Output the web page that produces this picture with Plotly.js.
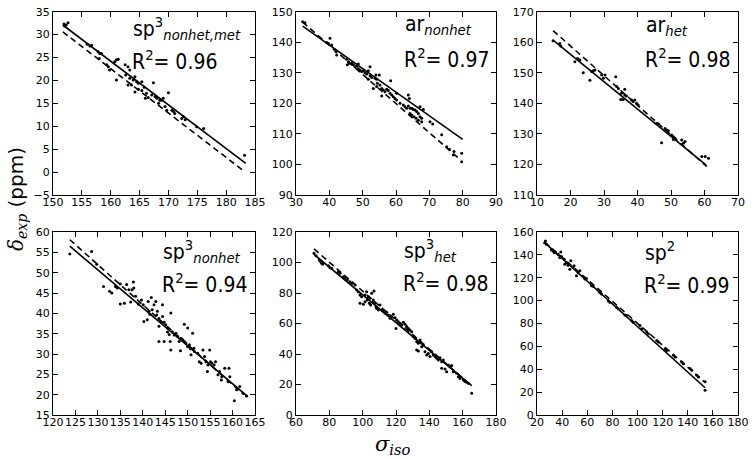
<!DOCTYPE html>
<html><head><meta charset="utf-8">
<script src="https://cdn.plot.ly/plotly-3.0.1.min.js"></script>
<style>html,body{margin:0;padding:0;background:#fff}</style>
</head><body><div id="chart" style="width:754px;height:460px"></div>
<script>
// ---- Panel titles / R2 ----
const panelNames = ["sp<sup>3</sup><sub><i>nonhet,met</i></sub>", "ar<sub><i>nonhet</i></sub>", "ar<sub><i>het</i></sub>",
                    "sp<sup>3</sup><sub><i>nonhet</i></sub>", "sp<sup>3</sup><sub><i>het</i></sub>", "sp<sup>2</sup>"];
const r2Values = ["0.96", "0.97", "0.98", "0.94", "0.98", "0.99"];

// ---- Axis ranges / ticks ----
const xRanges = [[150,185],[30,90],[10,70],[120,165],[60,180],[20,180]];
const yRanges = [[-5,35],[90,150],[110,170],[15,60],[0,120],[0,160]];
const xDticks = [5,10,10,5,20,20];
const yDticks = [5,10,10,5,20,20];

// ---- Panel 1: sp3 nonhet,met ----
const p1Sigma = [151.9,152.0,152.3,152.6,155.9,156.4,156.7,157.8,158.1,158.0,158.4,159.3,159.6,159.8,160.7,161.0,161.3,161.0,162.5,163.0,163.3,162.6,163.3,163.0,163.6,163.9,164.2,164.5,164.8,164.2,164.8,165.4,165.4,165.8,166.2,166.0,166.5,167.1,167.4,167.7,168.0,168.5,168.3,168.8,169.1,169.4,169.7,170.0,170.6,170.9,171.1,172.3,172.6,172.9,174.9,176.1,183.2];
const p1Delta = [32.3,31.9,32.1,32.6,27.9,27.5,27.7,26.3,25.9,24.8,25.9,23.4,23.0,22.3,24.1,24.5,24.6,20.1,23.4,23.0,22.3,21.2,20.5,19.0,19.0,20.1,20.8,19.7,19.4,17.5,18.1,17.8,19.7,18.5,17.2,16.1,16.3,16.8,19.5,16.5,16.1,15.7,15.0,15.7,16.1,14.3,13.5,17.3,13.5,13.2,12.8,11.7,12.1,11.4,9.9,9.5,3.7];
const p1FitX = [151.7,183.4], p1FitY = [32.1,1.9];
const p1RefX = [151.7,183.0], p1RefY = [30.6,0.3];

// ---- Panel 2: ar nonhet ----
const p2Sigma = [32,32.7,39.2,39.7,40.2,40.7,41.7,42.2,42,45.2,45.7,46,45.4,46.7,47.2,47.7,48.2,48.7,48.7,49.2,49.7,50.2,50.7,51.2,51.7,52.2,52.7,51.7,52.2,54,55,53.7,54.2,53.2,54.2,54.4,55.2,55.7,56.2,56.7,55.7,57.2,57.7,58.2,58.7,58.4,59.2,59.7,60.2,60.2,61.2,62.2,62.7,63.2,63.7,63.7,64,64.2,64.7,65.2,65.7,64.2,64.7,65.4,66,66.2,66.7,67.2,67.2,67.7,68.2,66.7,67.7,70.2,71,73.7,75.2,76,77.2,77.4,79.7,79.7];
const p2Delta = [146.7,146.4,139.9,139.6,141.3,139.1,137.5,135.8,136.9,134.4,133.6,133.1,132.6,133.1,132.6,132,132.2,132.9,131.4,130.9,130.4,130.7,130,129.6,130.7,129,128.5,127.9,132,129.3,129.3,128.2,127.9,124.9,125.5,126.6,126,124.9,124.4,123.8,122.4,124.6,124.2,123.3,122.7,127.4,122.2,121.6,123.3,121.1,120,119.5,118.9,118.4,119.1,122.7,121.6,118.4,118.4,118,117.8,116.7,116.2,115.6,115.1,117.3,116.7,118.9,115.6,115.1,118,114.5,114,114,113.2,109.7,105.8,105,103.1,104.2,103.7,100.9];
const p2FitX = [32,80], p2FitY = [145.3,108.2];
const p2RefX = [32,78.5], p2RefY = [146.6,102.3];

// ---- Panel 3: ar het ----
const p3Sigma = [14.8,16.8,17.1,21.3,22.1,22.8,23.8,25.8,26.3,26.8,27.3,29.3,30.3,29.8,33.5,33.8,34.3,35,35.7,35.2,36.2,36.7,36.2,38.2,38.7,39.2,39.7,40.2,45.7,46.2,48.2,48.7,49.2,47.2,50.2,50.7,51.2,50.7,53.2,53.7,54.2,59.2,60.2,61.2];
const p3Delta = [160.5,159.6,158.8,153.6,154.7,154.2,150,147.6,150.4,150.7,150.9,149.3,149.3,148.2,148.7,145.5,144.9,141.3,141.3,143.3,142.7,142.4,144.6,141.1,140.6,141.1,140,139.5,133.5,133.3,131.8,131.3,131,127.1,129.6,129.1,128.6,128.2,128,126.9,127.5,122.6,122.6,122];
const p3FitX = [14.8,60.5], p3FitY = [160.7,119.8];
const p3RefX = [14.8,60.7], p3RefY = [163.8,119.3];

// ---- Panel 4: sp3 nonhet ----
const p4Sigma = [123.75,128.6,129.75,131.25,132.6,133.1,133.9,134.3,135,135,135.9,136.4,136.9,137.6,137.9,138,137.3,138.4,139,139.7,140.1,140.25,141,141.2,141.4,141.6,141.9,142.1,142.5,142.9,143.1,143.25,143.6,144,144.4,144.4,143.6,144.75,145.1,145.5,143.6,144.75,146.25,145.5,145.9,146.1,146.25,146.6,147,147.4,147.75,148.1,148.5,148.4,149.25,148.9,149.25,149.6,150,150.4,150,150.6,150.75,151.4,151.1,151.5,152.25,152.6,153,153.4,153.75,154.1,154.4,154.5,154.9,155.1,155.4,155.9,156.2,156.75,157.1,157.5,157.6,158.25,159.2,159,159.4,160.4,160.9,161.6,163.1];
const p4Delta = [54.6,55.2,52.1,46.6,45.4,45,46.6,46.2,47.2,42.3,42.5,47.1,45.8,45.8,47.7,46.2,42.8,44.2,42.3,43.3,42.1,38,38.4,42.9,40.5,39.8,43.9,40.9,42.1,42.9,39.6,40.5,38.7,38,39.2,42.1,36.8,37.8,37.2,36.4,33.1,33.1,40.1,35.4,34.8,33.1,31,35.5,34.7,35.1,34.3,33.1,33.9,30.8,37.3,33.5,33.1,32.7,36.4,32.3,31.8,31.3,29.8,31.4,35.1,30.6,30.2,28.1,27.7,31,29.4,28.1,25.7,27.3,31,28.1,27.7,27.3,28.1,24.9,25.7,23.6,24.4,26.5,26.5,23.2,24.4,18.5,21.2,22,19.7];
const p4FitX = [123.75,163.4], p4FitY = [56.5,19.5];
const p4RefX = [123.75,162.5], p4RefY = [58.1,20.0];

// ---- Panel 5: sp3 het ----
const p5Sigma = [70.8,72,74,74.8,75.4,76,79.4,80.4,81.4,85.4,86.4,88.4,89.4,90.8,92.4,93.4,95.4,96.4,97.4,98.4,99.4,98.4,100.4,101.4,102.4,103.4,104.4,105.4,106.4,106.8,101.4,102.8,104,104.8,106,107.4,108,108.4,109.4,110.4,111.4,112.4,113.4,114.4,115.4,116.4,117.4,118.4,119.4,120.4,121.4,122.4,123.4,124.4,125.4,126.4,127.4,120,128.4,129.4,130.4,131.4,132.4,133.4,134.4,132.4,133.4,135.4,136.4,137.4,138.4,139.4,140.4,141.4,142.4,143.4,144.4,145.4,146.4,147.4,148.4,147.4,149.4,150.4,151.4,152.4,153.4,154.4,156.4,157.4,158.4,160.4,161.4,162.4,163.4,165.4];
const p5Delta = [106,104.5,101.6,100.5,99.5,98.8,97.9,96.6,96.2,94,92.9,90.7,89.6,88.5,87.4,86.3,85.2,82,80.9,78.7,77.6,73.2,72.6,78.7,80.9,77.6,76.5,79.8,75.4,81.3,74.3,75.4,73.2,72.1,73.9,73.2,71,69.9,68.8,72.1,68.8,67.8,66.7,67.3,65.6,63.4,64.5,66,63.8,62.3,61.2,60.1,59,60.8,59.5,58,56.8,56.8,55.7,54.6,51.4,50.3,48.1,47,49.2,42.6,42,44.8,45.9,41.5,39.3,40.4,38.3,41.5,39.3,38.3,37.2,36.1,37.6,35,36.1,30.6,30.2,28.4,32.8,31.7,32.4,28.4,27.3,25.1,24,23,21.9,21.4,20.8,14.2];
const p5FitX = [70.8,165.4], p5FitY = [105.4,19.2];
const p5RefX = [70.8,165.0], p5RefY = [108.9,19.5];

// ---- Panel 6: sp2 ----
const p6Sigma = [26.1,27.5,26.7,31.4,32.8,33.6,34.6,36.8,38.1,38.9,39.4,41.6,42.1,43.4,44.7,46.1,46.9,48.7,49.5,51.4,52.7,54.1,58.1,59.4,63.4,64.7,70,71.4,76.7,78,83.3,84.7,90,91.3,95.3,96.6,102,103.3,107.3,108.6,115.3,116.6,122,123.2,128.6,129.9,135.2,136.5,141.9,143.2,147.2,148.5,153.8,153.8];
const p6Delta = [150.7,149.3,152.2,144.3,143.5,142,142.6,140.6,137.7,142.6,138.6,136.2,131.9,133.3,131,127.5,134.8,129,130.4,121.7,124.6,126.1,118.8,119.4,113,112.5,107.2,105.8,100,98.6,94.2,92.8,87.5,87,82.6,81.2,78.3,75.4,72.5,71,65.2,63.8,58,56.5,52.2,50.7,46.4,44.9,40.6,39.1,34.8,33.3,29,21.7];
const p6FitX = [26.1,153.8], p6FitY = [150.7,23.8];
const p6RefX = [26.1,153.8], p6RefY = [151.2,28.5];

const scatters = [[p1Sigma,p1Delta],[p2Sigma,p2Delta],[p3Sigma,p3Delta],[p4Sigma,p4Delta],[p5Sigma,p5Delta],[p6Sigma,p6Delta]];
const fits = [[p1FitX,p1FitY],[p2FitX,p2FitY],[p3FitX,p3FitY],[p4FitX,p4FitY],[p5FitX,p5FitY],[p6FitX,p6FitY]];
const refs = [[p1RefX,p1RefY],[p2RefX,p2RefY],[p3RefX,p3RefY],[p4RefX,p4RefY],[p5RefX,p5RefY],[p6RefX,p6RefY]];

// ---- layout geometry (pixels -> paper) ----
const W = 754, H = 460;
const colPx = [[53,255],[296,496],[537,738]];
const rowPx = [[11.7,195],[232,415]];
const textX = [0.39,0.54,0.537,0.54,0.535,0.532];
const nameOff = [16,13,14,19,18,19];   // px from top of plot to name box centre
const r2Off = [48,46,46,51,50,52];     // px from top of plot to R2 box centre
const annFont = 'DejaVu Sans Condensed, DejaVu Sans';

const traces = [];
const layout = {
  width: W, height: H, margin: {l:0,r:0,t:0,b:0},
  paper_bgcolor: '#fff', plot_bgcolor: '#fff', showlegend: false,
  font: {family: 'DejaVu Sans', color: '#000'},
  annotations: []
};
for (let i = 0; i < 6; i++) {
  const s = i === 0 ? '' : String(i+1);
  const xa = 'x' + s, ya = 'y' + s;
  traces.push({x: refs[i][0], y: refs[i][1], xaxis: xa, yaxis: ya, mode: 'lines',
    line: {color: '#000', width: 1.6, dash: '6px,4px'}, hoverinfo: 'skip'});
  traces.push({x: fits[i][0], y: fits[i][1], xaxis: xa, yaxis: ya, mode: 'lines',
    line: {color: '#000', width: 1.6}, hoverinfo: 'skip'});
  traces.push({x: scatters[i][0], y: scatters[i][1], xaxis: xa, yaxis: ya, mode: 'markers',
    marker: {color: '#000', size: 3, symbol: 'circle'}});
  const c = colPx[i % 3], r = rowPx[Math.floor(i / 3)];
  const ph = r[1] - r[0];
  const axCommon = {showgrid: false, zeroline: false, showline: true, linecolor: '#000', linewidth: 1,
    mirror: 'ticks', ticks: 'inside', ticklen: 5, tickcolor: '#000', tickwidth: 1, tickangle: 0,
    tickfont: {family: 'DejaVu Sans', size: 11, color: '#000'}};
  layout['xaxis' + s] = Object.assign({}, axCommon, {domain: [c[0]/W, c[1]/W], range: xRanges[i],
    dtick: xDticks[i], tick0: 0, anchor: ya, ticklabelstandoff: -3});
  layout['yaxis' + s] = Object.assign({}, axCommon, {domain: [1 - r[1]/H, 1 - r[0]/H], range: yRanges[i],
    dtick: yDticks[i], tick0: 0, anchor: xa});
  layout.annotations.push({xref: xa + ' domain', yref: ya + ' domain', x: textX[i], y: 1 - nameOff[i]/ph,
    xanchor: 'left', yanchor: 'middle', align: 'left', showarrow: false, borderpad: 0,
    text: panelNames[i], font: {family: annFont, size: 21, color: '#000'}});
  layout.annotations.push({xref: xa + ' domain', yref: ya + ' domain', x: textX[i] - 0.005, y: 1 - r2Off[i]/ph,
    xanchor: 'left', yanchor: 'middle', align: 'left', showarrow: false, borderpad: 0,
    text: 'R<sup>2</sup>= ' + r2Values[i], font: {family: annFont, size: 21, color: '#000'}});
}
layout.annotations.push({xref: 'paper', yref: 'paper', x: 17/W, y: 1 - 199/H, textangle: -90,
  showarrow: false, xanchor: 'center', yanchor: 'middle',
  text: '<i><span style="font-family:DejaVu Serif">δ<sub>exp</sub></span></i> (ppm)',
  font: {family: 'DejaVu Sans', size: 20, color: '#000'}});
layout.annotations.push({xref: 'paper', yref: 'paper', x: 393/W, y: 1 - 445/H,
  showarrow: false, xanchor: 'center', yanchor: 'middle',
  text: '<i>σ<sub>iso</sub></i>',
  font: {family: 'DejaVu Serif', size: 21, color: '#000'}});

Plotly.newPlot('chart', traces, layout, {staticPlot: true, displayModeBar: false});
</script></body></html>
